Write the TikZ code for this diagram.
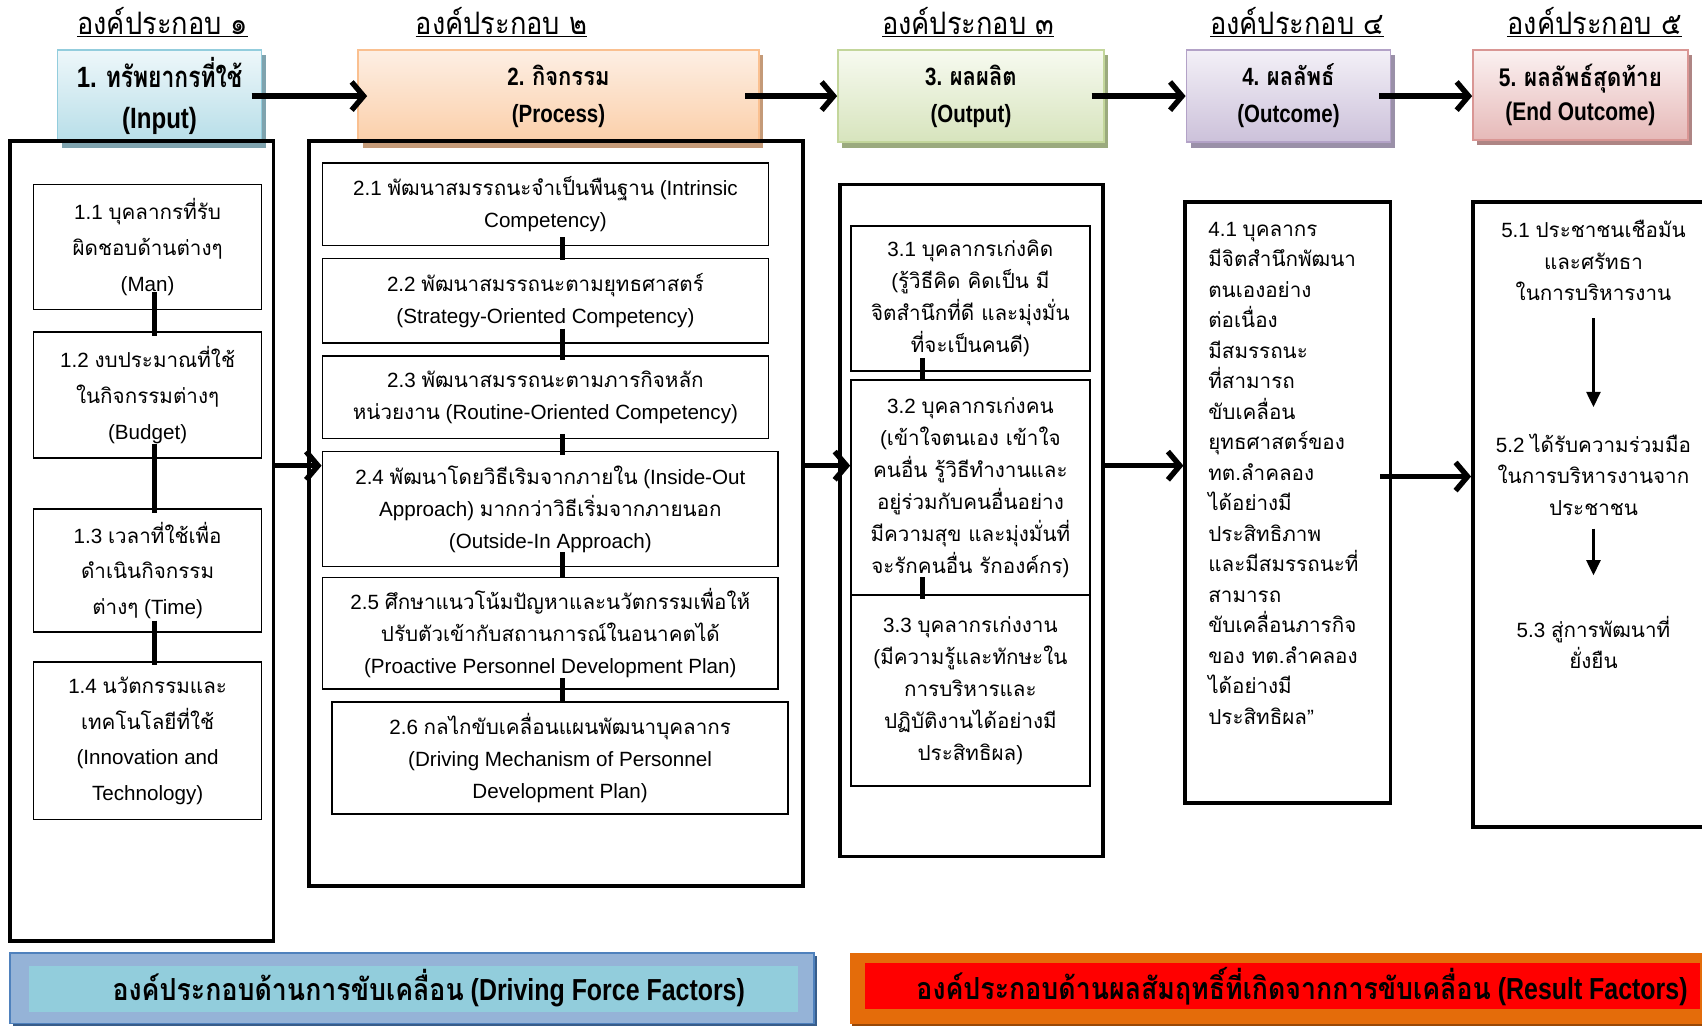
\documentclass[tikz,border=0pt]{standalone}
\usepackage{fontspec}
\setmainfont{Liberation Sans}
\newfontfamily\thaifnt[Script=Thai]{Loma}
\newfontfamily\thaicnd[Script=Thai,FakeStretch=0.78]{Loma}
\newfontfamily\thaicndw[Script=Thai,FakeStretch=0.88]{Loma}
\newfontfamily\latcnd[FakeStretch=0.82]{Liberation Sans}
\newcommand*\thx[1]{{\thaifnt #1}}
\newcommand*\thc[1]{{\thaicnd #1}}
\newcommand*\thw[1]{{\thaicndw #1}}
\usetikzlibrary{arrows.meta,shadows,calc}
\definecolor{h1d}{HTML}{93CDDD}\definecolor{h1t}{HTML}{EEF7FA}\definecolor{h1b}{HTML}{B7DEE8}\definecolor{h1s}{HTML}{7FA3AE}
\definecolor{h2d}{HTML}{FAC090}\definecolor{h2t}{HTML}{FDEFE4}\definecolor{h2b}{HTML}{FBCFA9}\definecolor{h2s}{HTML}{C49A78}
\definecolor{h3d}{HTML}{C3D69B}\definecolor{h3t}{HTML}{F7FAF0}\definecolor{h3b}{HTML}{D7E4BD}\definecolor{h3s}{HTML}{9BAA7E}
\definecolor{h4d}{HTML}{B3A2C7}\definecolor{h4t}{HTML}{F3F0F7}\definecolor{h4b}{HTML}{CCC1DA}\definecolor{h4s}{HTML}{9A90A8}
\definecolor{h5d}{HTML}{D99694}\definecolor{h5t}{HTML}{FBF1F1}\definecolor{h5b}{HTML}{E6B9B8}\definecolor{h5s}{HTML}{AE8584}
\definecolor{blout}{HTML}{95B3D7}\definecolor{bldraw}{HTML}{4F81BD}\definecolor{blin}{HTML}{92CDDC}\definecolor{blsh}{HTML}{385D8A}
\definecolor{brout}{HTML}{E46C0A}\definecolor{brin}{HTML}{FF0000}\definecolor{brsh}{HTML}{984807}
\tikzset{
  comptitle/.style={inner sep=0pt, font=\thaicndw\fontsize{28.5}{32}\selectfont},
  hbox/.style={line width=1.5pt, inner sep=0pt, align=center, font=\latcnd\bfseries\fontsize{23}{34}\selectfont},
  outerbox/.style={draw=black, line width=3.5pt, inner sep=0pt},
  subbox/.style={draw=black, line width=1.5pt, inner sep=0pt, align=center, font=\fontsize{19}{29.5}\selectfont},
  subboxA/.style={subbox, minimum width=210pt, font=\fontsize{19}{33}\selectfont},
  plaintext/.style={inner sep=0pt, align=center, font=\fontsize{19}{29}\selectfont},
  link/.style={line width=4.5pt},
  bigarrow/.style={line width=5pt, -{Straight Barb[length=11pt,width=26pt]}},
  smallarrow/.style={line width=2.2pt, -{Triangle[length=14pt,width=13pt]}},
  bannertext/.style={inner sep=0pt, font=\latcnd\bfseries\fontsize{28}{32}\selectfont}
}
\begin{document}
\begin{tikzpicture}[x=1pt,y=-1pt]
\useasboundingbox (0,0) rectangle (1568,945);
\fill[white] (0,0) rectangle (1568,945);

% component titles
\node[comptitle] (L1) at (150,20) {\underline{องค์ประกอบ ๑}};
\node[comptitle] (L2) at (462,20) {\underline{องค์ประกอบ ๒}};
\node[comptitle] (L3) at (892,20) {\underline{องค์ประกอบ ๓}};
\node[comptitle] (L4) at (1195,20) {\underline{องค์ประกอบ ๔}};
\node[comptitle] (L5) at (1469,20) {\underline{องค์ประกอบ ๕}};

% header boxes
\node[hbox, minimum width=188pt, minimum height=85pt, draw=h1d, top color=h1t, bottom color=h1b,
  drop shadow={shadow xshift=4pt, shadow yshift=-5pt, fill=h1s, opacity=1},
  font=\latcnd\bfseries\fontsize{27}{38}\selectfont] (h1) at (147,88.5) {1. \thc{ทรัพยากรที่ใช้}\\(Input)};
\node[hbox, minimum width=369pt, minimum height=85pt, draw=h2d, top color=h2t, bottom color=h2b,
  drop shadow={shadow xshift=4pt, shadow yshift=-5pt, fill=h2s, opacity=1}] (h2) at (514.5,88.5) {2. \thw{กิจกรรม}\\(Process)};
\node[hbox, minimum width=245pt, minimum height=85pt, draw=h3d, top color=h3t, bottom color=h3b,
  drop shadow={shadow xshift=4pt, shadow yshift=-5pt, fill=h3s, opacity=1}] (h3) at (894.5,88.5) {3. \thw{ผลผลิต}\\(Output)};
\node[hbox, minimum width=188pt, minimum height=85pt, draw=h4d, top color=h4t, bottom color=h4b,
  drop shadow={shadow xshift=4pt, shadow yshift=-5pt, fill=h4s, opacity=1}] (h4) at (1187,88.5) {4. \thw{ผลลัพธ์}\\(Outcome)};
\node[hbox, minimum width=198pt, minimum height=83pt, draw=h5d, top color=h5t, bottom color=h5b,
  drop shadow={shadow xshift=4pt, shadow yshift=-5pt, fill=h5s, opacity=1},
  font=\latcnd\bfseries\fontsize{23.5}{31}\selectfont] (h5) at (1456,87.5) {5. \thw{ผลลัพธ์สุดท้าย}\\(End Outcome)};

\draw[bigarrow] ([xshift=-10pt]h1.east) -- ([xshift=9pt]h2.west);
\draw[bigarrow] ([xshift=-13pt]h2.east) -- (h3.west);
\draw[bigarrow] ([xshift=-12pt]h3.east) -- (h4.west);
\coordinate (h4e) at ([xshift=-11pt]h4.east);
\draw[bigarrow] (h4e) -- (h5.west |- h4e);

% outer column boxes
\node[outerbox, minimum width=243pt, minimum height=737pt] (c1) at (130.5,498.5) {};
\node[outerbox, minimum width=455pt, minimum height=686pt] (c2) at (512.5,473) {};
\node[outerbox, minimum width=242pt, minimum height=619pt] (c3) at (895,479.5) {};
\node[outerbox, minimum width=189pt, minimum height=554pt] (c4) at (1186.5,463) {};
\node[outerbox, minimum width=233pt, minimum height=576pt] (c5) at (1473.5,474) {};

% column 1
\node[subboxA, minimum height=115pt] (b11) at (136,227.5) {1.1 \thx{บุคลากรที่รับ}\\\thx{ผิดชอบด้านต่างๆ}\\(Man)};
\node[subboxA, minimum height=116pt] (b12) at (136,364) {1.2 \thx{งบประมาณที่ใช้}\\\thx{ในกิจกรรมต่างๆ}\\(Budget)};
\node[subboxA, minimum height=113pt] (b13) at (136,525.5) {1.3 \thx{เวลาที่ใช้เพื่อ}\\\thx{ดำเนินกิจกรรม}\\\thx{ต่างๆ} (Time)};
\node[subboxA, minimum height=145pt] (b14) at (136,682.5) {1.4 \thx{นวัตกรรมและ}\\\thx{เทคโนโลยีที่ใช้}\\(Innovation and\\Technology)};
\coordinate (k1) at (142,0);
\draw[link] ($(b11.south -| k1)+(0,-17)$) -- ($(b12.north -| k1)+(0,4)$);
\draw[link] ($(b12.south -| k1)+(0,-14)$) -- ($(b13.north -| k1)+(0,4)$);
\draw[link] ($(b13.south -| k1)+(0,-11)$) -- ($(b14.north -| k1)+(0,3)$);

% column 2
\node[subbox, minimum width=411pt, minimum height=76pt] (b21) at (502.5,188) {2.1 \thx{พัฒนาสมรรถนะจำเป็นพืนฐาน} (Intrinsic\\Competency)};
\node[subbox, minimum width=411pt, minimum height=78pt] (b22) at (502.5,277) {2.2 \thx{พัฒนาสมรรถนะตามยุทธศาสตร์}\\(Strategy-Oriented Competency)};
\node[subbox, minimum width=411pt, minimum height=76pt] (b23) at (502.5,366) {2.3 \thx{พัฒนาสมรรถนะตามภารกิจหลัก}\\\thx{หน่วยงาน} (Routine-Oriented Competency)};
\node[subbox, minimum width=420pt, minimum height=106pt] (b24) at (507,469) {2.4 \thx{พัฒนาโดยวิธีเริมจากภายใน} (Inside-Out\\Approach) \thx{มากกว่าวิธีเริ่มจากภายนอก}\\(Outside-In Approach)};
\node[subbox, minimum width=420pt, minimum height=103pt] (b25) at (507,583.5) {2.5 \thx{ศึกษาแนวโน้มปัญหาและนวัตกรรมเพื่อให้}\\\thx{ปรับตัวเข้ากับสถานการณ์ในอนาคตได้}\\(Proactive Personnel Development Plan)};
\node[subbox, minimum width=420pt, minimum height=103pt] (b26) at (516,698.5) {2.6 \thx{กลไกขับเคลื่อนแผนพัฒนาบุคลากร}\\(Driving Mechanism of Personnel\\Development Plan)};
\coordinate (k2) at (518,0);
\draw[link] ($(b21.south -| k2)+(0,-8)$) -- ($(b22.north -| k2)+(0,2)$);
\draw[link] ($(b22.south -| k2)+(0,-14)$) -- ($(b23.north -| k2)+(0,4)$);
\draw[link] ($(b23.south -| k2)+(0,-5)$) -- ($(b24.north -| k2)+(0,4)$);
\draw[link] ($(b24.south -| k2)+(0,-14)$) -- ($(b25.north -| k2)+(0,1)$);
\draw[link] ($(b25.south -| k2)+(0,-11)$) -- ($(b26.north -| k2)+(0,1)$);

% column 3
\node[subbox, minimum width=220pt, minimum height=134pt] (b31) at (894,275) {3.1 \thx{บุคลากรเก่งคิด}\\(\thx{รู้วิธีคิด คิดเป็น มี}\\\thx{จิตสำนึกที่ดี และมุ่งมั่น}\\\thx{ที่จะเป็นคนดี})};
\node[subbox, minimum width=220pt, minimum height=198pt] (b32) at (894,449) {3.2 \thx{บุคลากรเก่งคน}\\(\thx{เข้าใจตนเอง เข้าใจ}\\\thx{คนอื่น รู้วิธีทำงานและ}\\\thx{อยู่ร่วมกับคนอื่นอย่าง}\\\thx{มีความสุข และมุ่งมั่นที่}\\\thx{จะรักคนอื่น รักองค์กร})};
\node[subbox, minimum width=220pt, minimum height=176pt] (b33) at (894,636) {3.3 \thx{บุคลากรเก่งงาน}\\(\thx{มีความรู้และทักษะใน}\\\thx{การบริหารและ}\\\thx{ปฏิบัติงานได้อย่างมี}\\\thx{ประสิทธิผล})};
\coordinate (k3) at (850,0);
\draw[link] ($(b31.south -| k3)+(0,-13)$) -- ($(b32.north -| k3)+(0,2)$);
\draw[link] ($(b32.south -| k3)+(0,-17)$) -- ($(b33.north -| k3)+(0,5)$);

% column 4
\node[plaintext, align=left, anchor=west, font=\fontsize{19}{28.1}\selectfont] (t41) at (1113,436) {4.1 \thx{บุคลากร}\\\thx{มีจิตสำนึกพัฒนา}\\\thx{ตนเองอย่าง}\\\thx{ต่อเนื่อง}\\\thx{มีสมรรถนะ}\\\thx{ที่สามารถ}\\\thx{ขับเคลื่อน}\\\thx{ยุทธศาสตร์ของ}\\\thx{ทต.ลำคลอง}\\\thx{ได้อย่างมี}\\\thx{ประสิทธิภาพ}\\\thx{และมีสมรรถนะที่}\\\thx{สามารถ}\\\thx{ขับเคลื่อนภารกิจ}\\\thx{ของ ทต.ลำคลอง}\\\thx{ได้อย่างมี}\\\thx{ประสิทธิผล}”};

% column 5
\node[plaintext] (t51) at (1468,240) {5.1 \thx{ประชาชนเชือมัน}\\\thx{และศรัทธา}\\\thx{ในการบริหารงาน}};
\node[plaintext] (t52) at (1468,437) {5.2 \thx{ได้รับความร่วมมือ}\\\thx{ในการบริหารงานจาก}\\\thx{ประชาชน}};
\node[plaintext] (t53) at (1468,592) {5.3 \thx{สู่การพัฒนาที่}\\\thx{ยั่งยืน}};
\draw[smallarrow] ($(t51.center)+(0,53)$) -- ($(t52.center)+(0,-62)$);
\draw[smallarrow] ($(t52.center)+(0,50)$) -- ($(t53.center)+(0,-62)$);

% column arrows
\coordinate (r1) at (0,429);
\coordinate (r2) at (0,439);
\coordinate (c4e) at ([xshift=-11pt]c4.east);
\draw[bigarrow] (c1.east |- r1) -- (b24.west |- r1);
\draw[bigarrow] (c2.east |- r1) -- (b32.west |- r1);
\draw[bigarrow] (c3.east |- r1) -- (c4.west |- r1);
\draw[bigarrow] (c4e |- r2) -- (c5.west |- r2);

% bottom banners
\node[draw=bldraw, line width=1.5pt, fill=blout, minimum width=741pt, minimum height=65pt, inner sep=0pt,
  drop shadow={shadow xshift=3pt, shadow yshift=-3pt, fill=blsh, opacity=1}] (bl) at (379.5,910.5) {};
\node[fill=blin, minimum width=708pt, minimum height=42pt, inner sep=0pt] (bli) at (381,911) {};
\node[bannertext] (blt) at (395,910) {\thw{องค์ประกอบด้านการขับเคลื่อน} (Driving Force Factors)};

\node[fill=brout, minimum width=807pt, minimum height=65pt, inner sep=0pt,
  drop shadow={shadow xshift=2pt, shadow yshift=-3pt, fill=brsh, opacity=1}] (br) at (1186.5,910.5) {};
\node[fill=brin, minimum width=769pt, minimum height=43pt, inner sep=0pt] (bri) at (1181.5,908.5) {};
\node[bannertext] (brt) at (1199.5,909) {\thw{องค์ประกอบด้านผลสัมฤทธิ์ที่เกิดจากการขับเคลื่อน} (Result Factors)};
\end{tikzpicture}
\end{document}
